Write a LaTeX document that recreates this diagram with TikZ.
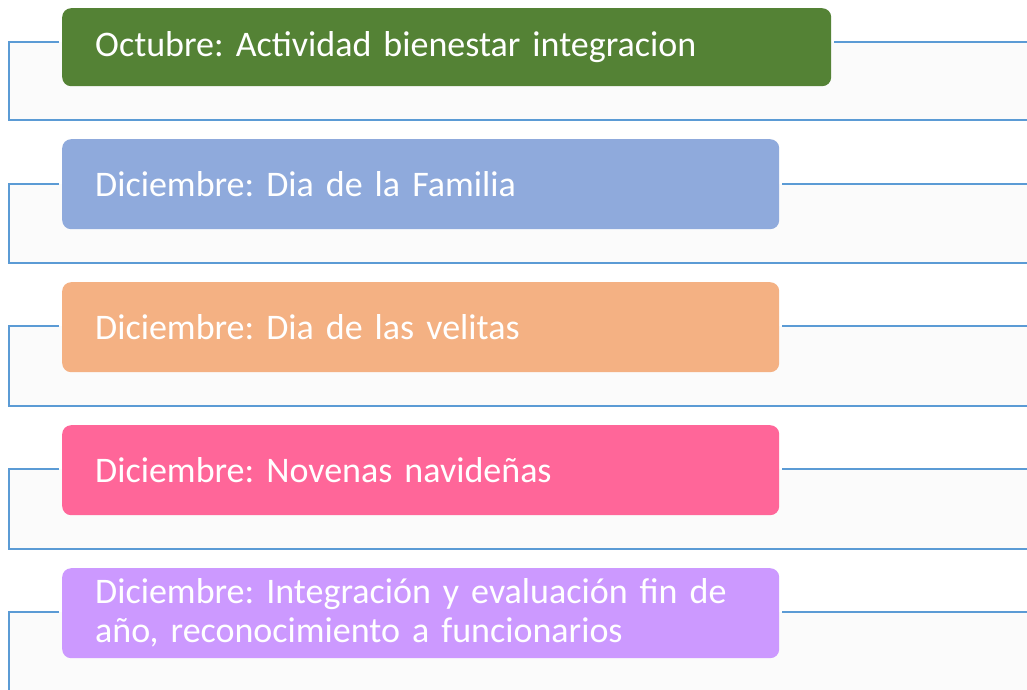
\documentclass[tikz,border=0pt]{standalone}
\usepackage{fontspec}
\setmainfont{Carlito}
\usetikzlibrary{positioning}
\usetikzlibrary{calc}

\definecolor{lineblue}{HTML}{5B9BD5}
\definecolor{panelgray}{HTML}{FBFBFB}
\definecolor{octgreen}{HTML}{548235}
\definecolor{famblue}{HTML}{8FAADC}
\definecolor{velorange}{HTML}{F4B183}
\definecolor{novpink}{HTML}{FF6699}
\definecolor{finpurple}{HTML}{CC99FF}

\begin{document}
\frenchspacing
\begin{tikzpicture}[x=1pt, y=-1pt, font=\fontsize{36}{39}\selectfont,
  card/.style={rounded corners=9pt, text=white, anchor=north west, align=left,
    inner xsep=33pt, inner ysep=0pt, minimum height=90pt, text width=651pt},
  link/.style={draw=lineblue, line width=2.5pt},
  panel/.style={fill=panelgray}]
\clip (0,0) rectangle (1027,690);
\fill[white] (0,0) rectangle (1027,690);

%panels behind each row
\foreach \t/\b in {42/120, 184/263, 326/406, 469/549, 612/700} {
  \fill[panel] (9,\t) rectangle (1027,\b);
}

%cards
\node[card, fill=octgreen, minimum height=78pt, text width=703pt] (oct) at (62,8) {Octubre: Actividad bienestar integracion};
\node[card, fill=famblue] (fam) at (62,139) {Diciembre: Dia de la Familia};
\node[card, fill=velorange] (vel) at (62,282) {Diciembre: Dia de las velitas};
\node[card, fill=novpink] (nov) at (62,425) {Diciembre: Novenas navideñas};
\node[card, fill=finpurple] (fin) at (62,568) {Diciembre: Integración y evaluación fin de\\año, reconocimiento a funcionarios};

%brackets
\foreach \n/\t/\b in {oct/42/120, fam/184/263, vel/326/406, nov/469/549, fin/612/700} {
  \coordinate (top-\n) at (9,\t);
  \coordinate (end-\n) at (1027,\b);
  \draw[link] ([xshift=-3pt]\n.west |- top-\n) -- (top-\n) |- (end-\n);
  \draw[link] ([xshift=3pt]\n.east |- top-\n) -- (end-\n |- top-\n);
}
\end{tikzpicture}
\end{document}
